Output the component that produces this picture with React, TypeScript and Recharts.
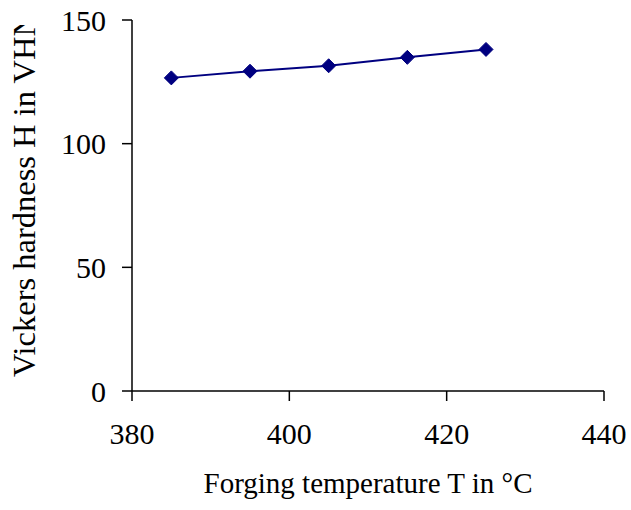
import { LineChart, Line, XAxis, YAxis } from "recharts";

const temperatures = [385, 395, 405, 415, 425];
const hardness = [126.6, 129.3, 131.5, 134.9, 138.1];
const xTicks = [380, 400, 420, 440];
const yTicks = [0, 50, 100, 150];

const data = temperatures.map((t, i) => ({ t, h: hardness[i] }));

const FONT = '"Liberation Serif", "Times New Roman", serif';
const NAVY = "#000080";

const Diamond = (props: any) => {
  const { cx, cy } = props;
  if (cx == null || cy == null) return null;
  const r = 7;
  return (
    <polygon
      points={`${cx},${cy - r} ${cx + r},${cy} ${cx},${cy + r} ${cx - r},${cy}`}
      fill={NAVY}
      stroke={NAVY}
      strokeWidth={1}
    />
  );
};

export default function App() {
  return (
    <div style={{ position: "absolute", left: 0, top: 0, background: "white" }}>
      <LineChart
        width={631}
        height={510}
        data={data}
        margin={{ top: 20, right: 27, bottom: 0, left: 0 }}
      >
        <XAxis
          dataKey="t"
          type="number"
          domain={[380, 440]}
          ticks={xTicks}
          height={119}
          tickSize={10}
          tickMargin={22}
          axisLine={{ stroke: "#000", strokeWidth: 1.5 }}
          tickLine={{ stroke: "#000", strokeWidth: 1.5 }}
          tick={{ fill: "#000", fontSize: 30, fontFamily: FONT }}
          label={{
            content: (p: any) => {
              const vb = p.viewBox || {};
              return (
                <text
                  x={vb.x + vb.width / 2}
                  y={493}
                  textAnchor="middle"
                  fontSize={29}
                  fontFamily={FONT}
                  fill="#000"
                >
                  Forging temperature T in °C
                </text>
              );
            },
          }}
        />
        <YAxis
          type="number"
          domain={[0, 150]}
          ticks={yTicks}
          width={132}
          tickSize={10}
          tickMargin={16}
          axisLine={{ stroke: "#000", strokeWidth: 1.5 }}
          tickLine={{ stroke: "#000", strokeWidth: 1.5 }}
          tick={{ fill: "#000", fontSize: 30, fontFamily: FONT }}
          label={{
            content: () => (
              <g>
                <defs>
                  <clipPath id="yTitleClip">
                    <rect x={0} y={25} width={60} height={470} />
                  </clipPath>
                </defs>
                <g clipPath="url(#yTitleClip)">
                  <text
                    x={24}
                    y={377}
                    transform="rotate(-90 24 377)"
                    textAnchor="start"
                    dominantBaseline="central"
                    fontSize={32.5}
                    fontFamily={FONT}
                    fill="#000"
                  >
                    Vickers hardness H in VHN
                  </text>
                </g>
              </g>
            ),
          }}
        />
        <Line
          dataKey="h"
          stroke={NAVY}
          strokeWidth={2}
          dot={<Diamond />}
          activeDot={false}
          isAnimationActive={false}
        />
      </LineChart>
    </div>
  );
}
